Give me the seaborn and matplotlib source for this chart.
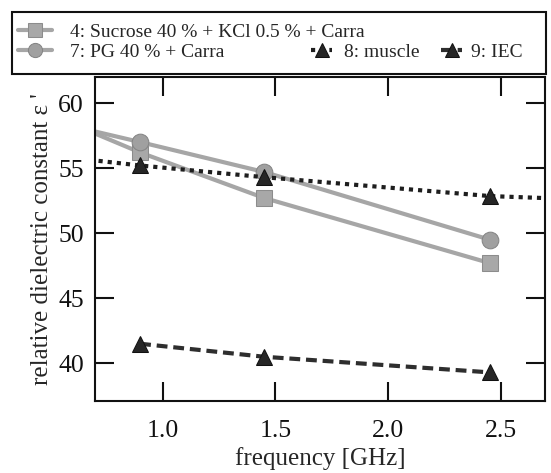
import numpy as np, pandas as pd
import matplotlib
matplotlib.use('Agg')
import matplotlib.pyplot as plt
import seaborn as sns
from matplotlib.patches import Rectangle

# frequencies in GHz (0.433 / 3.0 lie outside the visible x range, lines run off the frame)
freq_gray = [0.433, 0.9, 1.45, 2.45]
sucrose = [59.6, 56.2, 52.7, 47.7]
pg = [58.9, 57.0, 54.7, 49.5]

freq_muscle = [0.433, 0.9, 1.45, 2.45, 3.0]
muscle = [56.1, 55.2, 54.3, 52.85, 52.5]

freq_iec = [0.9, 1.45, 2.45]
iec = [41.5, 40.5, 39.3]

labels = ['4: Sucrose 40 % + KCl 0.5 % + Carra', '7: PG 40 % + Carra', '8: muscle', '9: IEC']
xticks = [1.0, 1.5, 2.0, 2.5]
yticks = [40, 45, 50, 55, 60]

sns.set_theme(style='white')
plt.rcParams['font.family'] = ['Liberation Serif', 'DejaVu Serif']

fig = plt.figure(figsize=(5.51, 4.73), dpi=100)
ax = fig.add_axes([95/551, 72/473, 450/551, 324/473])

sns.lineplot(x=freq_gray, y=sucrose, ax=ax, color='#a6a6a6', lw=3, marker='s', markersize=12,
             markerfacecolor='#a8a8a8', markeredgecolor='#8c8c8c', label=labels[0])
sns.lineplot(x=freq_gray, y=pg, ax=ax, color='#a6a6a6', lw=3, marker='o', markersize=12,
             markerfacecolor='#a0a0a0', markeredgecolor='#858585', label=labels[1])
sns.lineplot(x=freq_muscle, y=muscle, ax=ax, color='#1e1e1e', lw=3, linestyle=(0, (1, 1.2)),
             marker='^', markersize=12, markerfacecolor='#262626', markeredgecolor='#111111',
             label=labels[2])
sns.lineplot(x=freq_iec, y=iec, ax=ax, color='#2e2e2e', lw=3, linestyle=(0, (2.6, 1.4)),
             marker='^', markersize=12, markerfacecolor='#262626', markeredgecolor='#111111',
             label=labels[3])
for ln in ax.lines:
    ln.set_dash_capstyle('butt')

handles, labs = ax.get_legend_handles_labels()
ax.get_legend().remove()

ax.set_xlim(0.7, 2.695)
ax.set_ylim(37.1, 62.0)
ax.set_xticks(xticks)
ax.set_xticklabels([f'{t:.1f}' for t in xticks])
ax.set_yticks(yticks)
ax.tick_params(direction='in', length=14, width=1.5, top=True, right=True, bottom=True,
               left=True, labelsize=18.5, colors='#111111')
ax.tick_params(axis='x', pad=14)
ax.tick_params(axis='y', pad=8)
for sp in ax.spines.values():
    sp.set_linewidth(1.5)
    sp.set_color('#111111')
ax.set_xlabel('frequency [GHz]', fontsize=18, labelpad=3)
ax.set_ylabel("relative dielectric constant ε '", fontsize=18, labelpad=4)

# legend: framed box above the axes, laid out as two rows
fig.add_artist(Rectangle((12/551, 1 - 74/473), 534/551, 62/473, transform=fig.transFigure,
                         fill=False, lw=1.5, edgecolor='#111111'))
legkw = dict(frameon=False, fontsize=14, borderpad=0, borderaxespad=0, markerscale=0.85,
             loc='center left')
spots = [(18, 32, 1.75, 0.9), (18, 52, 1.75, 0.9), (311, 52, 1.1, 0.6), (441, 52, 1.1, 0.45)]
for h, l, (px, py, hl, tp) in zip(handles, labs, spots):
    fig.legend([h], [l], bbox_to_anchor=(px/551, 1 - py/473), handlelength=hl,
               handletextpad=tp, **legkw)

fig.savefig('out.png', dpi=100)
